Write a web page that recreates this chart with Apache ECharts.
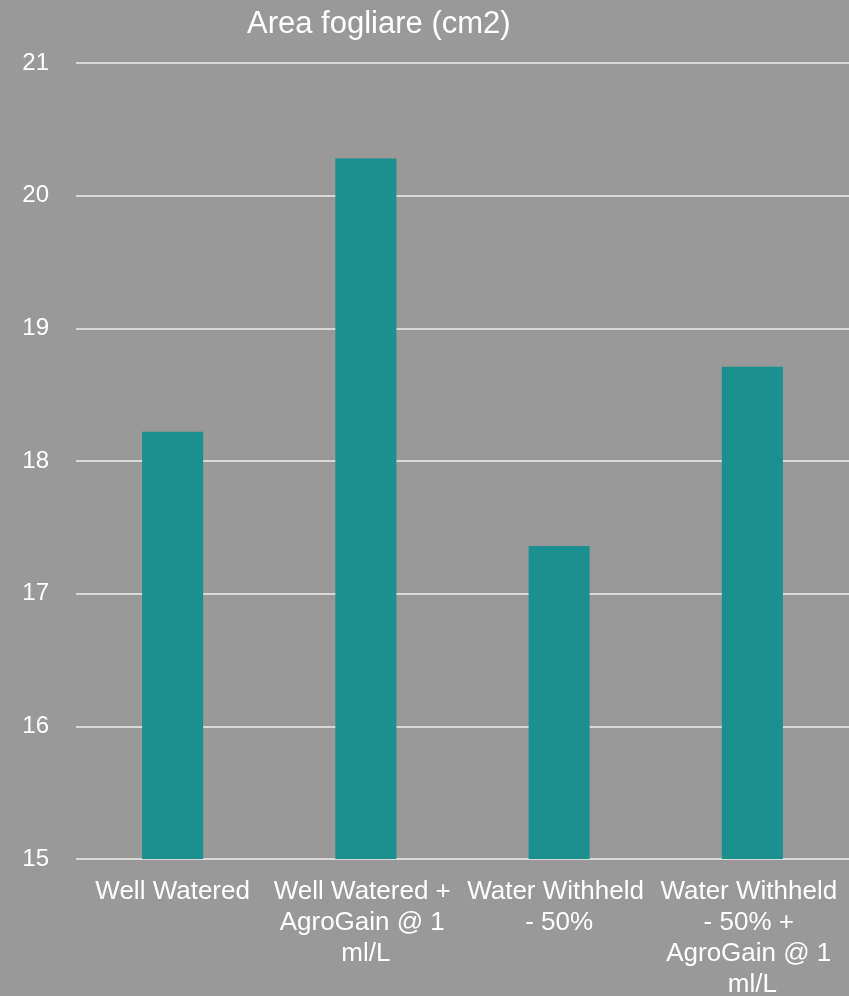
<!DOCTYPE html>
<html>
<head>
<meta charset="utf-8">
<script src="https://cdn.jsdelivr.net/npm/echarts@6/dist/echarts.min.js"></script>
<style>
html,body{margin:0;padding:0;background:#999999;}
#c{width:849px;height:996px;}
</style>
</head>
<body>
<div id="c"></div>
<script>
const titleText = "Area fogliare (cm2)";
const categories = ["Well Watered", "Well Watered + AgroGain @ 1 ml/L", "Water Withheld - 50%", "Water Withheld - 50% + AgroGain @ 1 ml/L"];
const values = [18.22, 20.28, 17.36, 18.71];
const yMin = 15, yMax = 21, yStep = 1;

const FONT = "'Liberation Sans', Arial, sans-serif";
const chart = echarts.init(document.getElementById('c'));
chart.setOption({
  backgroundColor: '#999999',
  animation: false,
  title: {
    text: titleText,
    left: 242, top: 4,
    textStyle: {color: '#ffffff', fontFamily: FONT, fontSize: 31, fontWeight: 'normal'}
  },
  grid: {left: 76, right: 0, top: 63, bottom: 137, containLabel: false, outerBoundsMode: 'none'},
  xAxis: {
    type: 'category',
    data: categories,
    axisLine: {show: false},
    axisTick: {show: false},
    axisLabel: {
      interval: 0, color: '#ffffff', fontFamily: FONT, fontSize: 26,
      width: 190, overflow: 'break', lineHeight: 31, margin: 17, align: 'center'
    }
  },
  yAxis: {
    type: 'value', min: yMin, max: yMax, interval: yStep,
    axisLine: {show: false}, axisTick: {show: false},
    axisLabel: {color: '#ffffff', fontFamily: FONT, fontSize: 24, margin: 27},
    splitLine: {show: true, lineStyle: {color: '#d9d9d9', width: 2}}
  },
  series: [{
    type: 'bar',
    data: values,
    barWidth: '31.6%',
    itemStyle: {color: '#1c9090'}
  }]
});
</script>
</body>
</html>
